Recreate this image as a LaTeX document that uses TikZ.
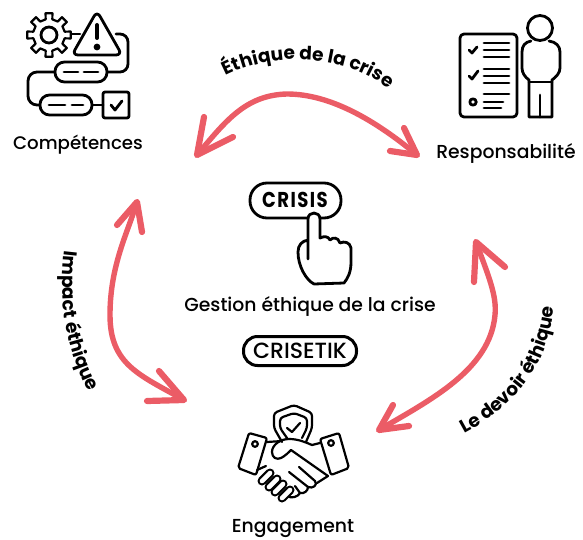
\documentclass[tikz,border=0pt]{standalone}
\usepackage{fontspec}
\setmainfont{Poppins}[UprightFont=* Medium,BoldFont=* Bold]
\usetikzlibrary{decorations.text}
\definecolor{arrowred}{HTML}{EB5C66}
\begin{document}
\begin{tikzpicture}[x=1pt,y=-1pt]
\tikzstyle{icon}=[draw=black,line width=2.8pt,line cap=round,line join=round]
\tikzstyle{thin icon}=[draw=black,line width=2.2pt,line cap=round,line join=round]
\tikzstyle{finger}=[draw=black,line width=2.2pt,line cap=round,double=white,double distance=4.6pt]
\tikzstyle{swoop}=[draw=arrowred,line width=5.4pt,line cap=round,line join=round]
\tikzstyle{barb}=[draw=arrowred,line width=6.2pt,line cap=round,line join=round]
\tikzstyle{caption}=[inner sep=0pt,font=\fontsize{18.8}{20}\selectfont]
\useasboundingbox (0,0) rectangle (583,540);

% captions
\path (78,145) node[caption,font=\fontsize{18.2}{20}\selectfont](competences){Compétences};
\path (506,153) node[caption](responsabilite){Responsabilité};
\path (310,306) node[caption](gestion){Gestion éthique de la crise};
\path (293,529) node[caption](engagement){Engagement};
\path (300,351) node[draw,line width=3pt,rounded corners=14pt,minimum width=113pt,minimum height=29pt,inner sep=0pt,font=\fontsize{22}{24}\selectfont](crisetik){CRISETIK};

% arrows
\coordinate (topL) at (197,155); \coordinate (topLa) at (204,117); \coordinate (topLb) at (233,137);
\coordinate (topR) at (417,155); \coordinate (topRa) at (404,128); \coordinate (topRb) at (390,151);
\coordinate (leftT) at (137,202); \coordinate (leftTa) at (117,225); \coordinate (leftTb) at (142,232);
\coordinate (leftB) at (184,400); \coordinate (leftBa) at (159,371); \coordinate (leftBb) at (147,401);
\coordinate (rightT) at (476,242); \coordinate (rightTa) at (505,267); \coordinate (rightTb) at (474,282);
\coordinate (rightB) at (379,430); \coordinate (rightBa) at (393,405); \coordinate (rightBb) at (409,426);
\draw[swoop] (topL) .. controls (225,122) and (245,95) .. (287,94) .. controls (330,94) and (375,120) .. (topR);
\draw[barb] (topLa) -- (topL) -- (topLb);
\draw[barb] (topRa) -- (topR) -- (topRb);
\draw[swoop] (leftT) .. controls (128,232) and (110,265) .. (110,315) .. controls (110,365) and (140,375) .. (leftB);
\draw[barb] (leftTa) -- (leftT) -- (leftTb);
\draw[barb] (leftBa) -- (leftB) -- (leftBb);
\draw[swoop] (rightT) .. controls (488,275) and (497,295) .. (495,315) .. controls (490,370) and (430,400) .. (rightB);
\draw[barb] (rightTa) -- (rightT) -- (rightTb);
\draw[barb] (rightBa) -- (rightB) -- (rightBb);

% curved labels
\path[decorate,decoration={text along path,text align=center,text={|\fontsize{18.5}{19}\bfseries\selectfont|Éthique de la crise}}]
  (220,79) .. controls (265,52) and (345,50) .. (394,93);
\path[decorate,decoration={text along path,text align=center,text={|\fontsize{18.5}{19}\bfseries\selectfont|Impact éthique}}]
  (65,246) .. controls (58,300) and (65,350) .. (91,396);
\path[decorate,decoration={text along path,text align=center,text={|\fontsize{18.5}{19}\bfseries\selectfont|Le devoir éthique}}]
  (457,437) .. controls (508,412) and (552,370) .. (554,299);

% competences icon
\begin{scope}[shift={(49,35)}]
\draw[thin icon] (-12:16) \foreach \a in {0,45,...,315} { -- (\a-12:16) -- (\a-9:22) -- (\a+9:22) -- (\a+12:16) } -- cycle;
\draw[icon] (0,0) circle (8pt);
\end{scope}
\draw[icon] (72,34) -- (80,34);
\draw[icon,fill=white,rounded corners=6pt] (97,11) -- (72,55) -- (122,55) -- cycle;
\draw[draw=black,line width=4pt,line cap=round] (97,25) -- (97,38);
\fill (97,47) circle (3.4pt);
\draw[icon,rounded corners=8pt] (116,34) -- (128,34) -- (128,72) -- (107,72);
\draw[icon,rounded corners=9pt] (55,72) -- (28,72) -- (28,105) -- (40,105);
\draw[icon,rounded corners=9.5pt] (55,62) rectangle (107,82);
\draw[icon] (64,72) -- (78,72) (84,72) -- (98,72);
\draw[icon,rounded corners=9.5pt] (40,95) rectangle (92,115);
\draw[icon] (49,105) -- (65,105) (72,105) -- (83,105);
\draw[icon] (92,105) -- (103,105);
\draw[icon,rounded corners=2pt] (103,92) rectangle (129,118);
\draw[icon] (111,105) -- (115,110) -- (122,101);

% responsabilite icon
\draw[icon,rounded corners=4pt] (460,34) rectangle (517,117);
\foreach \y in {43,50,57,69,76,83}
  \draw[icon] (484,\y) -- (509,\y);
\draw[icon] (484,94) -- (509,94) (484,102) -- (503,102) (484,108) -- (501,108);
\draw[icon] (469,50) -- (472,53) -- (477,47);
\draw[icon] (469,76) -- (472,79) -- (478,71);
\draw[icon] (473,102) circle (3.2pt);
\draw[icon] (540,28) circle (12.5pt);
\draw[icon] (531,41) .. controls (525,42) and (522,46) .. (522,52) -- (522,68) .. controls (522,73) and (525,77) .. (529,80)
  -- (529,117) -- (552,117) -- (552,80) .. controls (556,77) and (560,73) .. (560,68) -- (560,52) .. controls (560,46) and (556,42) .. (549,41);
\draw[icon] (529,82) -- (552,82);
\draw[icon] (540,95) -- (540,117);

% crisis icon
\draw[icon,rounded corners=17pt] (250,183) rectangle (341,218);
\path (295,200) node[inner sep=0pt,font=\fontsize{21.5}{22}\bfseries\selectfont](crisis){\scalebox{0.84}[1]{\addfontfeature{LetterSpace=8}CRISIS}};
\draw[icon,fill=white] (308,259) -- (308,219) .. controls (308,211) and (320,211) .. (320,219) -- (320,238)
  .. controls (324,236) and (328,236) .. (330,240) .. controls (333,237) and (338,237) .. (340,243)
  .. controls (344,241) and (350,242) .. (351,248) -- (351,262) .. controls (351,272) and (348,278) .. (344,283) -- (314,284)
  .. controls (306,280) and (298,266) .. (298,252) .. controls (298,245) and (302,241) .. (308,240);

% engagement icon
\draw[thin icon,rounded corners=3pt] (282,442) -- (274,428) -- (274,413) -- (294,405) -- (312,413) -- (312,428) -- (306,442);
\draw[thin icon,rounded corners=3pt] (287,438) -- (280,428) -- (280,418) -- (294,413) -- (307,418) -- (307,428) -- (302,438);
\draw[thin icon] (287,428) -- (292,432) -- (300,423);
\draw[thin icon,rounded corners=2pt] (249,433) -- (267,438) -- (256,475) -- (238,468) -- cycle;
\draw[thin icon] (255,444) circle (2.8pt);
\draw[thin icon,rounded corners=2pt] (320,439) -- (339,433) -- (349,468) -- (331,475) -- cycle;
\draw[thin icon] (331,443) circle (2.8pt);
\draw[thin icon] (267,442) -- (282,441);
\draw[thin icon] (257,470) -- (266,466);
\foreach \p/\q in {266/477,273/483,279/488,286/494}
  \draw[finger] (\p-4,\q+4) -- (\p+4,\q-4);
\draw[thin icon] (320,443) -- (312,445) .. controls (305,442) and (298,439) .. (289,439) .. controls (280,439) and (272,445) .. (272,452) .. controls (272,458) and (277,460) .. (281,458) .. controls (285,456) and (288,453) .. (291,450)
  -- (328,476);
\draw[thin icon] (328,476) -- (317,483);
\draw[thin icon] (299,467) -- (315,481) .. controls (318,485) and (313,489) .. (308,487) -- (289,472);
\draw[thin icon] (308,487) .. controls (308,491) and (304,494) .. (300,493) -- (295,486);
\draw[thin icon] (300,493) .. controls (298,497) and (292,498) .. (289,497);
\end{tikzpicture}
\end{document}
